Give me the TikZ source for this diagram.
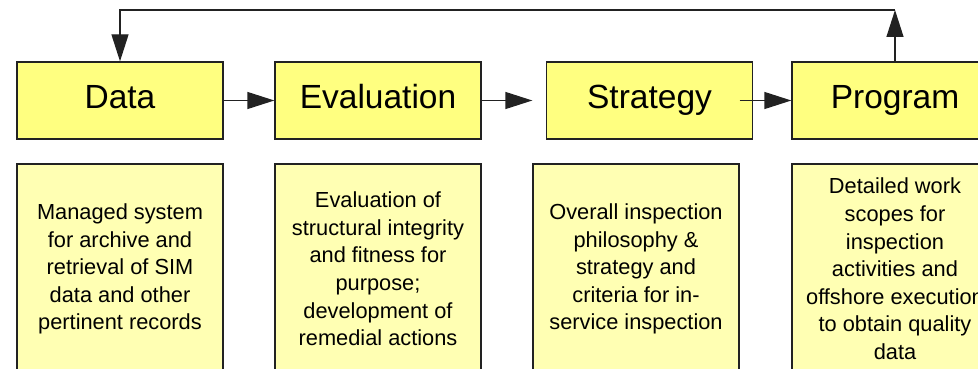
\documentclass[tikz,border=0pt]{standalone}
\usepackage{fontspec}
\setmainfont{Liberation Sans}
\usetikzlibrary{arrows.meta}
\definecolor{topfill}{HTML}{FFFF80}
\definecolor{descfill}{HTML}{FFFFB3}
\definecolor{edge}{HTML}{222222}
\begin{document}
\begin{tikzpicture}[x=1pt,y=-1pt,
  titlebox/.style={draw=edge, line width=1.3pt, fill=topfill, minimum width=206pt, minimum height=77pt, inner sep=0pt,
    text height=24pt, text depth=7pt, font=\fontsize{33.5}{38}\selectfont},
  descbox/.style={draw=edge, line width=1.3pt, fill=descfill, minimum width=206pt, minimum height=210pt, inner sep=0pt,
    align=center, font=\fontsize{21.8}{27.6}\selectfont},
  flow/.style={draw=edge, line width=1.3pt, -{Triangle[length=27pt,width=17pt]}}]
\useasboundingbox (0,0) rectangle (978,369);
\begin{scope}
\clip (0,0) rectangle (978,369);
\node[titlebox] (data) at (120,100.5) {Data};
\node[titlebox] (eval) at (378,100.5) {Evaluation};
\node[titlebox] (strat) at (649.5,100.5) {Strategy};
\node[titlebox] (prog) at (895,100.5) {Program};
\node[descbox] (datad) at (120,269) {Managed system\\for archive and\\retrieval of SIM\\data and other\\pertinent records};
\node[descbox] (evald) at (378,269) {Evaluation of\\structural integrity\\and fitness for\\purpose;\\development of\\remedial actions};
\node[descbox] (stratd) at (636,269) {Overall inspection\\philosophy \&\\strategy and\\criteria for in-\\service inspection};
\node[descbox] (progd) at (895,269) {Detailed work\\scopes for\\inspection\\activities and\\offshore execution\\to obtain quality\\data};
\coordinate (top) at (895,10);
\draw[flow] (data.east) -- (eval.west);
\draw[flow] (eval.east) -- (eval.east -| stratd.west);
\draw[flow] (strat.east -| stratd.east) -- (prog.west);
\draw[flow] (prog.north) -- (top);
\draw[flow] (top) -| (data.north);
\end{scope}
\end{tikzpicture}
\end{document}
